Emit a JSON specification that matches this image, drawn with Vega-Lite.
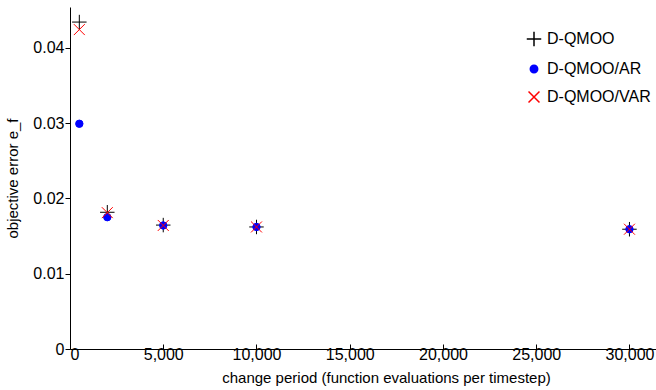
{
  "$schema": "https://vega.github.io/schema/vega-lite/v6.json",
  "width": 632,
  "height": 342,
  "autosize": {"type": "none"},
  "padding": {"left": 70, "top": 7, "right": 0, "bottom": 41},
  "background": "white",
  "config": {
    "view": {"stroke": null},
    "font": "Liberation Sans",
    "axis": {"grid": false, "domainColor": "black", "tickColor": "black", "labelColor": "black", "titleColor": "black", "labelFont": "Liberation Sans", "titleFont": "Liberation Sans", "labelFontSize": 16, "titleFontSize": 15, "titleFontWeight": "normal", "domainWidth": 1, "tickWidth": 1},
    "legend": {"labelFont": "Liberation Sans", "labelFontSize": 16, "labelColor": "black"}
  },
  "data": {
    "values": [
      {"period": 500, "error": 0.0434, "method": "D-QMOO"},
      {"period": 2000, "error": 0.01815, "method": "D-QMOO"},
      {"period": 5000, "error": 0.01645, "method": "D-QMOO"},
      {"period": 10000, "error": 0.0162, "method": "D-QMOO"},
      {"period": 30000, "error": 0.0159, "method": "D-QMOO"},
      {"period": 500, "error": 0.0299, "method": "D-QMOO/AR"},
      {"period": 2000, "error": 0.0175, "method": "D-QMOO/AR"},
      {"period": 5000, "error": 0.0164, "method": "D-QMOO/AR"},
      {"period": 10000, "error": 0.0162, "method": "D-QMOO/AR"},
      {"period": 30000, "error": 0.0159, "method": "D-QMOO/AR"},
      {"period": 500, "error": 0.0424, "method": "D-QMOO/VAR"},
      {"period": 2000, "error": 0.0181, "method": "D-QMOO/VAR"},
      {"period": 5000, "error": 0.0164, "method": "D-QMOO/VAR"},
      {"period": 10000, "error": 0.0162, "method": "D-QMOO/VAR"},
      {"period": 30000, "error": 0.0159, "method": "D-QMOO/VAR"}
    ]
  },
  "mark": {"type": "point", "filled": true, "strokeWidth": 1, "opacity": 1},
  "encoding": {
    "x": {
      "field": "period", "type": "quantitative",
      "scale": {"domain": [0, 33890], "nice": false},
      "axis": {"values": [0, 5000, 10000, 15000, 20000, 25000, 30000], "format": ",d", "title": "change period (function evaluations per timestep)", "tickSize": -5, "labelPadding": 2, "titlePadding": 8}
    },
    "y": {
      "field": "error", "type": "quantitative",
      "scale": {"domain": [0, 0.0454], "nice": false},
      "axis": {"values": [0, 0.01, 0.02, 0.03, 0.04], "format": "~g", "title": "objective error e_f", "tickSize": 5, "labelPadding": 1, "titlePadding": 12}
    },
    "shape": {
      "field": "method", "type": "nominal",
      "scale": {"domain": ["D-QMOO", "D-QMOO/AR", "D-QMOO/VAR"], "range": ["M-1,0L1,0M0,-1L0,1", "circle", "M-1,-1L1,1M-1,1L1,-1"]},
      "legend": {"title": null, "orient": "none", "legendX": 456, "legendY": 24, "rowPadding": 11, "labelOffset": 5}
    },
    "color": {
      "field": "method", "type": "nominal",
      "scale": {"domain": ["D-QMOO", "D-QMOO/AR", "D-QMOO/VAR"], "range": ["black", "#0000ff", "#ff0000"]},
      "legend": {"title": null, "orient": "none", "legendX": 456, "legendY": 24, "rowPadding": 11, "labelOffset": 5}
    },
    "stroke": {
      "field": "method", "type": "nominal",
      "scale": {"domain": ["D-QMOO", "D-QMOO/AR", "D-QMOO/VAR"], "range": ["black", "#0000ff", "#ff0000"]},
      "legend": {"title": null, "orient": "none", "legendX": 456, "legendY": 24, "rowPadding": 11, "labelOffset": 5}
    },
    "size": {
      "field": "method", "type": "nominal",
      "scale": {"type": "ordinal", "domain": ["D-QMOO", "D-QMOO/AR", "D-QMOO/VAR"], "range": [210, 55, 120]},
      "legend": {"title": null, "orient": "none", "legendX": 456, "legendY": 24, "rowPadding": 11, "labelOffset": 5}
    }
  }
}
